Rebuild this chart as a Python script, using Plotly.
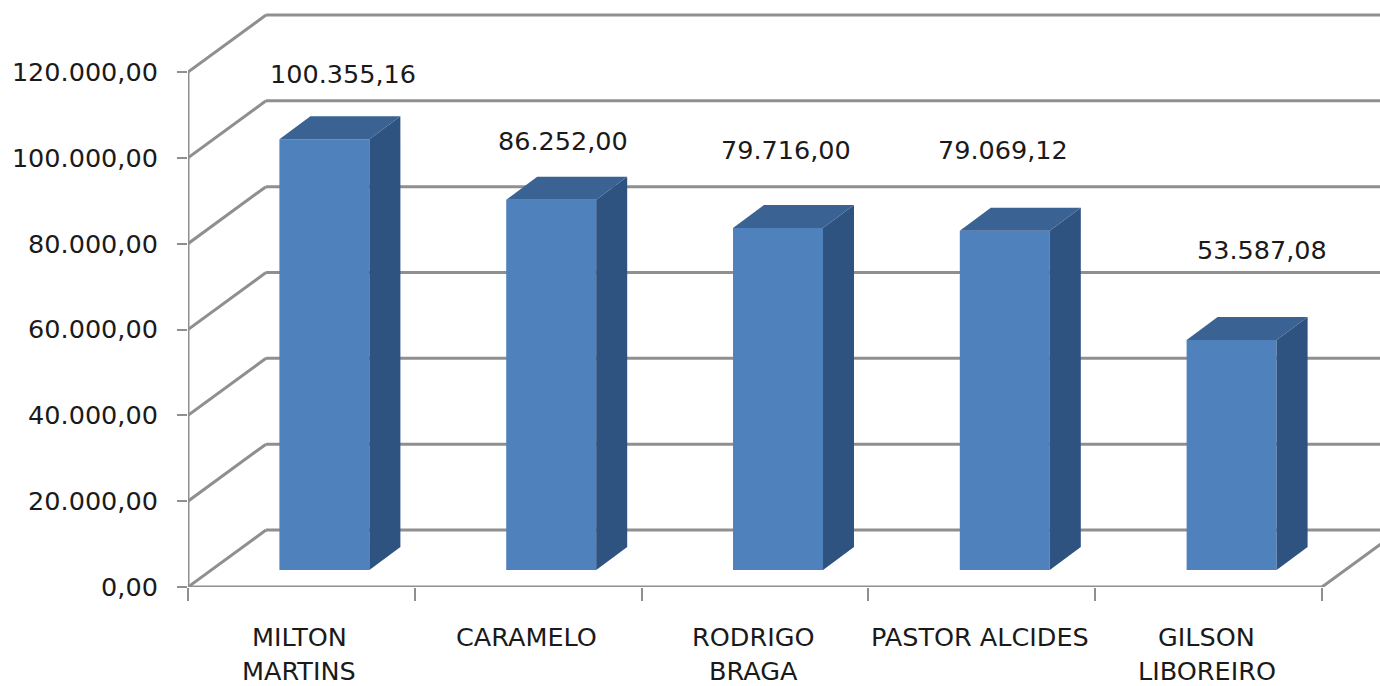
import plotly.graph_objects as go

names = ["MILTON<br>MARTINS", "CARAMELO", "RODRIGO<br>BRAGA", "PASTOR ALCIDES", "GILSON<br>LIBOREIRO"]
values = [100355.16, 86252.00, 79716.00, 79069.12, 53587.08]
value_labels = ["100.355,16", "86.252,00", "79.716,00", "79.069,12", "53.587,08"]
y_ticks = [0, 20000, 40000, 60000, 80000, 100000, 120000]
y_tick_labels = ["0,00", "20.000,00", "40.000,00", "60.000,00", "80.000,00", "100.000,00", "120.000,00"]

# data units per pixel, the axes fill the page from the corner of the chart
PX_X = 1 / 226.8
PX_Y = 120000 / 515
X_MAX = 1192 * PX_X
Y_MAX = 587 * PX_Y

# fake 3d: how far the back wall and the bars are pushed back
WALL_DX, WALL_DY = 78 * PX_X, 57 * PX_Y
FLOOR_DX, FLOOR_DY = 23 * PX_X, 17 * PX_Y
BAR_DX, BAR_DY = 31 * PX_X, 23 * PX_Y
BAR_W = 90 * PX_X

GRID = "#8f8f8f"
FRONT = "#4f81bd"
SIDE = "#2f5380"
TOP = "#3a6292"
FONT = dict(family="DejaVu Sans, sans-serif", size=25.5, color="#1a1a1a")

label_shift = [(19, 65), (12, 59), (8, 78), (-2, 81), (30, 90)]

fig = go.Figure()

# front face
fig.add_trace(go.Bar(
    x=[i + 0.5 + FLOOR_DX for i in range(len(values))],
    y=values,
    base=FLOOR_DY,
    width=BAR_W,
    marker=dict(color=FRONT, line=dict(width=0)),
    hoverinfo="skip",
))

# side and top faces
for i, v in enumerate(values):
    left = i + 0.5 + FLOOR_DX - BAR_W / 2
    right = left + BAR_W
    low = FLOOR_DY
    high = FLOOR_DY + v
    fig.add_trace(go.Scatter(
        x=[right, right + BAR_DX, right + BAR_DX, right, right],
        y=[low, low + BAR_DY, high + BAR_DY, high, low],
        mode="lines", fill="toself", fillcolor=SIDE, line=dict(width=0), hoverinfo="skip",
    ))
    fig.add_trace(go.Scatter(
        x=[left, left + BAR_DX, right + BAR_DX, right, left],
        y=[high, high + BAR_DY, high + BAR_DY, high, high],
        mode="lines", fill="toself", fillcolor=TOP, line=dict(width=0), hoverinfo="skip",
    ))


def grid_line(x0, y0, x1, y1):
    return dict(type="line", xref="x", yref="y", x0=x0, y0=y0, x1=x1, y1=y1,
                layer="below", line=dict(color=GRID, width=3))


shapes = [grid_line(0, 0, 0, y_ticks[-1]), grid_line(0, 0, 5, 0), grid_line(5, 0, 5 + WALL_DX, WALL_DY)]
for t in y_ticks:
    shapes.append(grid_line(0, t, WALL_DX, t + WALL_DY))
    shapes.append(grid_line(WALL_DX, t + WALL_DY, X_MAX, t + WALL_DY))

annotations = []
for i, v in enumerate(values):
    annotations.append(dict(
        x=i + 0.5 + FLOOR_DX, y=FLOOR_DY + v, text=value_labels[i], showarrow=False,
        xshift=label_shift[i][0], yshift=label_shift[i][1], font=FONT,
    ))
    # one annotation per line, plotly's own line height is too tight here
    for j, line in enumerate(names[i].split("<br>")):
        annotations.append(dict(
            x=i + 0.5, y=0, text=line, showarrow=False, xshift=-2, yshift=-50 - 34 * j, font=FONT,
        ))

fig.update_layout(
    width=1380,
    height=686,
    margin=dict(l=188, r=0, t=0, b=99),
    paper_bgcolor="white",
    plot_bgcolor="white",
    showlegend=False,
    shapes=shapes,
    annotations=annotations,
    xaxis=dict(
        range=[0, X_MAX],
        showgrid=False,
        zeroline=False,
        showline=False,
        tickmode="array",
        tickvals=[0, 1, 2, 3, 4, 5],
        ticktext=[""] * 6,
        ticks="outside",
        ticklen=13,
        tickwidth=2,
        tickcolor=GRID,
    ),
    yaxis=dict(
        range=[0, Y_MAX],
        showgrid=False,
        zeroline=False,
        showline=False,
        tickmode="array",
        tickvals=y_ticks,
        ticktext=y_tick_labels,
        ticks="outside",
        ticklen=10,
        tickwidth=2,
        tickcolor=GRID,
        ticklabelstandoff=14,
        tickfont=FONT,
    ),
)

# drop the page's default body margin so the figure fills the window
fig.write_html(
    "out.html",
    config={"displayModeBar": False},
    post_script="document.body.style.margin = '0';",
)
